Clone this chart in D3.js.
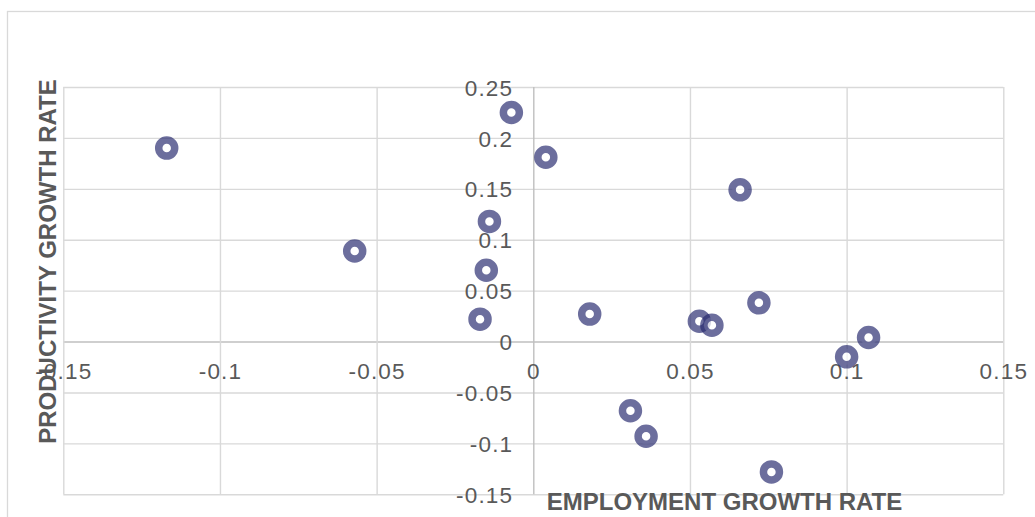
<!DOCTYPE html>
<html>
<head>
<meta charset="utf-8">
<script src="https://cdn.jsdelivr.net/npm/d3@7"></script>
<style>
  html, body { margin: 0; padding: 0; background: #fff; }
  svg { display: block; }
</style>
</head>
<body>
<svg id="chart" width="1035" height="517"></svg>
<script>
// Data
const employmentGrowth = [-0.117, -0.057, -0.007, 0.004, -0.014, -0.015, -0.017, 0.018, 0.066, 0.053, 0.057, 0.072, 0.107, 0.100, 0.031, 0.036, 0.076];
const productivityGrowth = [0.190, 0.089, 0.225, 0.181, 0.118, 0.070, 0.022, 0.027, 0.149, 0.020, 0.016, 0.038, 0.004, -0.015, -0.068, -0.093, -0.128];
const xTicks = [-0.15, -0.1, -0.05, 0, 0.05, 0.1, 0.15];
const xTickLabels = ["-0.15", "-0.1", "-0.05", "0", "0.05", "0.1", "0.15"];
const yTicks = [-0.15, -0.1, -0.05, 0, 0.05, 0.1, 0.15, 0.2, 0.25];
const yTickLabels = ["-0.15", "-0.1", "-0.05", "0", "0.05", "0.1", "0.15", "0.2", "0.25"];
const xTitle = "EMPLOYMENT GROWTH RATE";
const yTitle = "PRODUCTIVITY GROWTH RATE";

(function () {
const svg = d3.select("#chart");
const pLeft = 63.3, pRight = 1003.3, pTop = 87, pBottom = 494.3;

const x = d3.scaleLinear().domain([-0.15, 0.15]).range([pLeft, pRight]);
const y = d3.scaleLinear().domain([-0.15, 0.25]).range([pBottom, pTop]);

// outer chart border
svg.append("rect")
  .attr("x", 7.5).attr("y", 11.5)
  .attr("width", 1100).attr("height", 600)
  .attr("fill", "none").attr("stroke", "#d9d9d9").attr("stroke-width", 1.3);

// gridlines (vertical)
const gx = svg.append("g").attr("transform", `translate(0,${pBottom})`)
  .call(d3.axisBottom(x).tickValues(xTicks).tickSize(-(pBottom - pTop)).tickFormat(""));
gx.select(".domain").remove();
gx.selectAll(".tick line")
  .attr("stroke", d => d === 0 ? "#bfbfbf" : "#d9d9d9")
  .attr("stroke-width", 1.4);

// gridlines (horizontal)
const gy = svg.append("g").attr("transform", `translate(${pLeft},0)`)
  .call(d3.axisLeft(y).tickValues(yTicks).tickSize(-(pRight - pLeft)).tickFormat(""));
gy.select(".domain").remove();
gy.selectAll(".tick line")
  .attr("stroke", d => d === 0 ? "#bfbfbf" : "#d9d9d9")
  .attr("stroke-width", 1.4);

gx.selectAll(".tick").filter(d => d === 0).raise();
gy.selectAll(".tick").filter(d => d === 0).raise();
gx.raise();

// x tick labels along y=0
const xLab = svg.append("g").attr("transform", `translate(0,${y(0)})`)
  .call(d3.axisBottom(x).tickValues(xTicks).tickSize(0).tickPadding(0)
    .tickFormat((d, i) => xTickLabels[i]));
xLab.select(".domain").remove();
xLab.selectAll("text")
  .attr("y", 37.5)
  .attr("dy", 0)
  .attr("font-family", "Liberation Sans, Arial, sans-serif")
  .attr("font-size", 22.5)
  .attr("letter-spacing", 1.2)
  .attr("fill", "#595959");

// y tick labels along x=0
const yLab = svg.append("g").attr("transform", `translate(${x(0)},0)`)
  .call(d3.axisLeft(y).tickValues(yTicks).tickSize(0).tickPadding(0)
    .tickFormat((d, i) => yTickLabels[i]));
yLab.select(".domain").remove();
yLab.selectAll("text")
  .attr("x", -20)
  .attr("dy", "0.36em")
  .attr("font-family", "Liberation Sans, Arial, sans-serif")
  .attr("font-size", 22.5)
  .attr("letter-spacing", 1.2)
  .attr("fill", "#595959");

// axis titles
svg.append("text")
  .attr("x", 724.5).attr("y", 509.5)
  .attr("text-anchor", "middle")
  .attr("font-family", "Liberation Sans, Arial, sans-serif")
  .attr("font-weight", "bold")
  .attr("font-size", 24)
  .attr("fill", "#595959")
  .text(xTitle);

svg.append("text")
  .attr("transform", "translate(56,261.5) rotate(-90)")
  .attr("text-anchor", "middle")
  .attr("font-family", "Liberation Sans, Arial, sans-serif")
  .attr("font-weight", "bold")
  .attr("font-size", 24)
  .attr("fill", "#595959")
  .text(yTitle);

// markers
const pts = employmentGrowth.map((e, i) => [e, productivityGrowth[i]]);
svg.append("g").selectAll("circle").data(pts).join("circle")
  .attr("cx", d => x(d[0]))
  .attr("cy", d => y(d[1]))
  .attr("r", 8)
  .attr("fill", "#ffffff")
  .attr("fill-opacity", 0.7)
  .attr("stroke", "#262a6e")
  .attr("stroke-opacity", 0.68)
  .attr("stroke-width", 7.5);
})();
</script>
</body>
</html>
